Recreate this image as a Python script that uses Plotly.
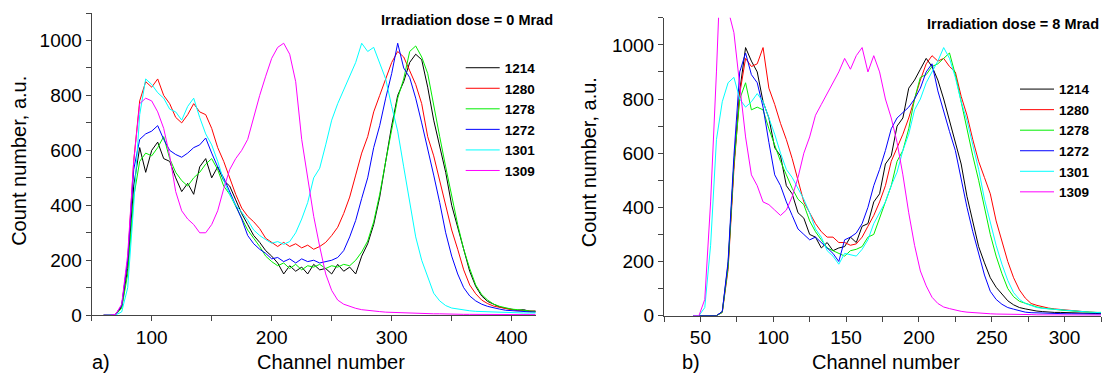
import plotly.graph_objects as go

W, H = 1104, 383

# ---------------- data ----------------
names = ["1214", "1280", "1278", "1272", "1301", "1309"]
colors = ["#000000", "#ff0000", "#00ee00", "#0000ff", "#00ffff", "#ff00ff"]

# panel a) : irradiation dose 0 Mrad, channels 60..420 step 5
ch_a = list(range(60, 421, 5))
a_1214 = [0, 0, 3, 30, 170, 470, 610, 520, 600, 630, 570, 560, 500, 450, 480, 440, 540, 570, 500, 540,
          490, 470, 420, 370, 330, 290, 265, 235, 215, 190, 150, 180, 160, 175, 150, 185, 165, 170, 150, 185,
          160, 175, 150, 215, 260, 330, 430, 560, 690, 800, 850, 920, 950, 930, 830, 710, 620, 520, 400, 320,
          230, 160, 105, 70, 50, 40, 30, 25, 22, 18, 20, 14, 15]
a_1280 = [0, 0, 3, 35, 200, 560, 780, 850, 830, 860, 800, 770, 720, 700, 730, 770, 740, 730, 680, 610,
          560, 500, 440, 390, 360, 340, 315, 280, 265, 250, 265, 250, 260, 245, 255, 240, 250, 265, 290, 320,
          370, 430, 510, 590, 650, 740, 800, 860, 920, 960, 940, 890, 840, 770, 650, 580, 490, 400, 310, 240,
          165, 110, 78, 55, 42, 33, 28, 24, 20, 18, 16, 15, 14]
a_1278 = [0, 0, 2, 25, 150, 430, 560, 590, 580, 610, 650, 570, 520, 490, 470, 500, 520, 550, 570, 530,
          470, 440, 395, 350, 310, 280, 250, 215, 195, 180, 190, 170, 185, 165, 180, 175, 185, 170, 180, 175,
          185, 180, 200, 230, 270, 340, 440, 560, 680, 790, 860, 960, 980, 940, 880, 760, 650, 540, 430, 330,
          240, 170, 110, 75, 55, 40, 32, 26, 22, 20, 17, 15, 13]
a_1272 = [0, 0, 3, 35, 200, 530, 640, 660, 670, 690, 640, 600, 585, 575, 590, 610, 620, 645, 590, 540,
          500, 450, 400, 350, 290, 260, 240, 225, 205, 210, 195, 205, 190, 205, 195, 200, 190, 195, 200, 210,
          235, 285, 345, 425, 500, 610, 690, 790, 880, 990, 900, 865, 790, 700, 610, 510, 410, 300, 215, 150,
          100, 70, 52, 40, 32, 26, 22, 18, 16, 14, 13, 12, 11]
a_1301 = [0, 0, 1, 12, 100, 400, 730, 860, 840, 810, 790, 750, 740, 710, 760, 790, 720, 660, 620, 560,
          490, 440, 400, 375, 345, 310, 290, 275, 262, 268, 258, 268, 300, 350, 410, 500, 535, 620, 710, 770,
          820, 870, 920, 990, 960, 975, 920, 860, 760, 670, 540, 405, 285, 200, 140, 80, 52, 35, 26, 22,
          18, 16, 14, 13, 12, 11, 10, 10, 9, 9, 8, 8, 8]
a_1309 = [0, 0, 3, 40, 220, 560, 770, 790, 780, 740, 680, 580, 450, 380, 350, 330, 300, 300, 330, 380,
          460, 530, 570, 600, 640, 725, 800, 870, 935, 975, 990, 950, 850, 640, 500, 360, 250, 150, 90, 55,
          40, 32, 25, 20, 17, 15, 13, 11, 10, 9, 8, 7, 7, 6, 6, 5, 5, 4, 4, 4,
          3, 3, 3, 3, 2, 2, 2, 2, 2, 2, 2, 2, 2]

# panel b) : irradiation dose 8 Mrad, channels 45..325 step 4
ch_b = list(range(45, 326, 4))
b_1214 = [0, 0, 0, 0, 0, 15, 190, 560, 830, 990, 940, 900, 790, 730, 620, 590, 480, 450, 380, 360,
          300, 290, 250, 270, 240, 250, 255, 290, 270, 330, 340, 420, 450, 560, 590, 700, 730, 840, 870, 910,
          950, 920, 870, 800, 720, 650, 560, 440, 350, 255, 195, 140, 105, 80, 55, 40, 30, 25, 20, 17,
          15, 13, 12, 12, 11, 10, 9, 9, 8, 8, 8]
b_1280 = [0, 0, 0, 0, 0, 12, 170, 540, 820, 950, 920, 930, 990, 840, 780, 710, 650, 580, 500, 420,
          380, 340, 310, 290, 290, 270, 270, 260, 265, 290, 330, 370, 420, 480, 570, 620, 670, 730, 800, 870,
          930, 960, 940, 950, 920, 900, 810, 740, 650, 570, 510, 450, 350, 275, 200, 140, 95, 65, 45, 38,
          32, 28, 25, 23, 20, 17, 16, 14, 13, 12, 11]
b_1278 = [0, 0, 0, 0, 0, 12, 180, 560, 800, 860, 760, 770, 760, 690, 630, 570, 520, 470, 430, 410,
          350, 310, 280, 250, 240, 230, 220, 240, 245, 255, 290, 300, 360, 420, 480, 570, 610, 690, 800, 880,
          890, 920, 930, 950, 970, 890, 790, 680, 590, 500, 400, 300, 220, 155, 100, 70, 53, 45, 38, 32,
          28, 25, 23, 21, 19, 17, 15, 14, 13, 12, 12]
b_1272 = [0, 0, 0, 0, 0, 15, 200, 590, 900, 970, 890, 860, 770, 640, 520, 480, 420, 370, 320, 300,
          280, 290, 270, 250, 230, 200, 280, 290, 305, 340, 400, 480, 540, 610, 690, 730, 750, 770, 800, 840,
          900, 930, 830, 750, 680, 610, 500, 400, 310, 225, 150, 90, 60, 42, 30, 24, 18, 13, 11, 10,
          9, 9, 8, 8, 7, 7, 7, 6, 6, 6, 6]
b_1301 = [0, 0, 30, 260, 650, 790, 860, 880, 800, 770, 790, 820, 790, 730, 670, 600, 540, 510, 470, 430,
          380, 320, 290, 240, 220, 190, 230, 225, 220, 245, 280, 340, 380, 420, 480, 530, 610, 670, 760, 800,
          860, 900, 940, 990, 950, 880, 790, 720, 630, 540, 430, 340, 260, 190, 130, 85, 60, 45, 37, 30,
          27, 25, 23, 21, 19, 17, 15, 14, 13, 12, 11]
b_1309 = [0, 0, 60, 420, 900, 1450, 1130, 1045, 850, 660, 520, 480, 420, 410, 390, 370, 390, 440, 510, 600,
          660, 740, 780, 820, 860, 900, 950, 910, 960, 990, 900, 960, 900, 800, 730, 640, 520, 380, 260, 165,
          110, 68, 45, 32, 26, 20, 16, 13, 11, 10, 8, 7, 6, 6, 5, 5, 4, 4, 4, 3,
          3, 3, 3, 3, 2, 2, 2, 2, 2, 2, 2]

series_a = [a_1214, a_1280, a_1278, a_1272, a_1301, a_1309]
series_b = [b_1214, b_1280, b_1278, b_1272, b_1301, b_1309]

# ---------------- figure ----------------
def fx(p):
    return p / W

def fy(p):
    return 1 - p / H

fig = go.Figure()
for n, c, ys in zip(names, colors, series_a):
    fig.add_trace(go.Scatter(x=ch_a, y=ys, mode="lines", name=n,
                             line=dict(color=c, width=1), xaxis="x", yaxis="y",
                             legend="legend"))
for n, c, ys in zip(names, colors, series_b):
    fig.add_trace(go.Scatter(x=ch_b, y=ys, mode="lines", name=n,
                             line=dict(color=c, width=1), xaxis="x2", yaxis="y2",
                             legend="legend2"))

axis_common = dict(showline=True, linecolor="#444444", linewidth=1, ticks="outside",
                   ticklen=5, tickwidth=1, tickcolor="#444444", showgrid=False,
                   zeroline=False, tickfont=dict(size=19, color="black"))

leg_font = dict(size=13.5, weight="bold", color="black")

fig.update_layout(
    width=W, height=H, margin=dict(l=0, r=0, t=0, b=0),
    paper_bgcolor="white", plot_bgcolor="white",
    font=dict(family="Liberation Sans, Arial, sans-serif", color="black"),
    showlegend=True, hovermode=False,
    xaxis=dict(domain=[fx(91.7), fx(535.7)], range=[50, 420], dtick=100, tick0=0,
               minor=dict(dtick=50, ticks="outside", ticklen=5, tickcolor="#444444"),
               anchor="y", **axis_common),
    yaxis=dict(domain=[fy(324.5), fy(13.4)], range=[0, 1100], dtick=200, tick0=0,
               minor=dict(dtick=100, ticks="outside", ticklen=5, tickcolor="#444444"),
               anchor="x", **axis_common),
    xaxis2=dict(domain=[fx(664), fx(1101)], range=[25, 325], dtick=50, tick0=0,
                minor=dict(dtick=25, ticks="outside", ticklen=5, tickcolor="#444444"),
                anchor="y2", **axis_common),
    yaxis2=dict(domain=[fy(325), fy(18.3)], range=[0, 1100], dtick=200, tick0=0,
                minor=dict(dtick=100, ticks="outside", ticklen=5, tickcolor="#444444"),
                anchor="x2", **axis_common),
    legend=dict(x=fx(460.7), y=fy(54), xanchor="left", yanchor="top",
                bgcolor="rgba(0,0,0,0)", borderwidth=0, itemwidth=34, font=leg_font),
    legend2=dict(x=fx(1015), y=fy(76), xanchor="left", yanchor="top",
                 bgcolor="rgba(0,0,0,0)", borderwidth=0, itemwidth=34, font=leg_font),
)

ann = [
    dict(text="Irradiation dose = 0 Mrad", x=fx(555), y=fy(20.7), xanchor="right", yanchor="middle",
         font=dict(size=14.5, weight="bold")),
    dict(text="Irradiation dose = 8 Mrad", x=fx(1101), y=fy(25), xanchor="right", yanchor="middle",
         font=dict(size=14.5, weight="bold")),
    dict(text="a)", x=fx(90), y=fy(373), xanchor="left", yanchor="middle", font=dict(size=20)),
    dict(text="b)", x=fx(680), y=fy(373), xanchor="left", yanchor="middle", font=dict(size=20)),
    dict(text="Channel number", x=fx(331), y=fy(373), xanchor="center", yanchor="middle", font=dict(size=20)),
    dict(text="Channel number", x=fx(885.7), y=fy(373), xanchor="center", yanchor="middle", font=dict(size=20)),
    dict(text="Count number, a.u.", x=fx(19.6), y=fy(166), xanchor="center", yanchor="middle",
         textangle=-90, font=dict(size=20)),
    dict(text="Count number, a.u.", x=fx(589), y=fy(167), xanchor="center", yanchor="middle",
         textangle=-90, font=dict(size=20)),
]
for a in ann:
    a.update(xref="paper", yref="paper", showarrow=False)
fig.update_layout(annotations=ann)

fig.write_html("out.html", config={"displayModeBar": False, "staticPlot": True},
               post_script="document.body.style.margin='0px';document.body.style.overflow='hidden';")
